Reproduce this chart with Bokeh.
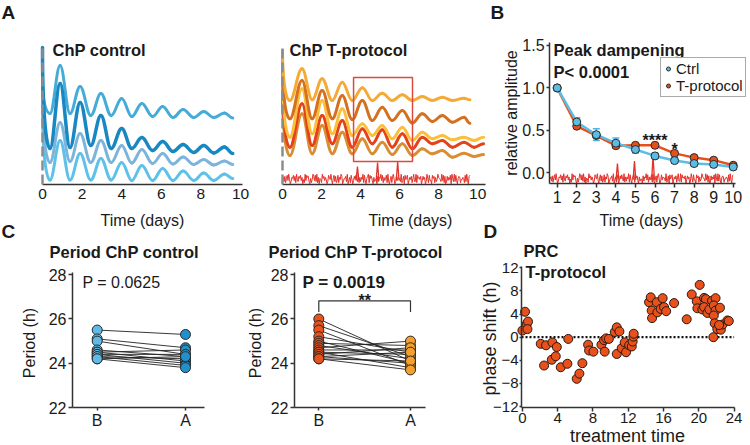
import numpy as np
from bokeh.plotting import figure
from bokeh.models import (Range1d, FixedTicker, Label, BoxAnnotation, Legend, LinearAxis,
                          LegendItem, Whisker, TeeHead, ColumnDataSource, NumeralTickFormatter)
from bokeh.embed import file_html
from bokeh.resources import INLINE
from bokeh.core.properties import value

FONT = "Liberation Sans"
INK = "#1a1a1a"
AXIS = "#333333"
W, H = 750, 445

# ---------------- A: bioluminescence traces (extrema: day, level) ----------------
ctrl_days = [0, 0.38, 0.89, 1.39, 1.9, 2.44, 2.95, 3.47, 4.0, 4.51, 5.02, 5.56, 6.07,
             6.59, 7.1, 7.64, 8.14, 8.65, 9.19, 9.61]
ctrl_trace_1 = [104, 71, 119, 71, 98, 69, 91, 69, 86, 68, 81, 68, 78, 67, 75, 67, 73, 67, 71.5, 66.5]
ctrl_trace_2 = [137, 36, 101, 37, 82, 39, 69, 36, 56, 36, 47, 34, 43, 33, 40, 32, 39, 31.5, 37.5, 31]
ctrl_trace_3 = [95, 22, 62, 23, 51, 22, 44, 22, 39, 21.5, 35, 21, 31, 20.5, 27.5, 20, 25, 19.5, 23.5, 20]
ctrl_trace_4 = [80, 4.5, 44, 4.5, 31, 4.5, 26, 4.5, 22, 4, 19, 4, 16, 4, 13.5, 4, 11.5, 4, 10.5, 6]
ctrl_colors = ["#45abd8", "#1888c2", "#7db4dc", "#5dc1ea"]

tp_days_short = [0, 0.38, 1.0, 1.52, 2.03, 2.55, 3.06, 3.57, 4.09, 4.6, 5.11, 5.62, 6.14,
                 6.65, 7.16, 7.68, 8.19, 8.7, 9.3, 9.6]
tp_days_long = [0, 0.38, 1.0, 1.52, 2.03, 2.55, 3.06, 3.57, 4.09, 4.6, 5.11, 5.62, 6.14,
                6.65, 7.16, 7.68, 8.19, 8.7, 9.3, 9.81, 10.3]
tp_trace_1 = [134, 84, 115.7, 84.7, 105.7, 84, 102.3, 84, 96.7, 84, 91.3, 84, 89.7, 84, 88, 84, 87.3, 84, 86.3, 84.7]
tp_trace_2 = [125, 65.7, 104, 65.7, 94, 65.7, 89, 65, 84, 64, 77.3, 64, 74, 61.5, 70.7, 63, 69, 62.3, 67.3, 61.3]
tp_trace_3 = [115, 47.3, 95.7, 50.7, 84, 50.7, 75.7, 49, 60.7, 49, 59, 45.7, 57.3, 44, 52.3, 45.7, 49, 44.7, 47.3, 44, 47.3]
tp_trace_4 = [105, 37.3, 80.7, 39, 69, 40.7, 64, 37.3, 55.7, 40.7, 54.7, 37.3, 50.7, 35.7, 47.3, 40.7, 44, 37.3, 42.3, 37.3, 40.7]
tp_trace_5 = [95, 29, 70.7, 30.7, 59, 30.7, 52.3, 30.7, 45.7, 30.7, 42.3, 30, 40.7, 29, 35.7, 30.7, 34, 27.3, 31.3, 28, 30]
tp_colors = ["#f5aa35", "#d4701f", "#fbbf3a", "#e64219", "#d98e34"]

highlight_days = (3.64, 6.66)
highlight_levels = (23, 107)

# light-pulse recording, digitised as 0-9 levels every 0.04 day
light_levels = ("4627158394" "0265837194" "2758360419" "3867205149" "7382916054" "1957364028"
                "6493058271" "3816497025" "5729036184" "0374852916" "2649183057" "9185730624"
                "4072659381" "6358192047" "1794028365" "5291370846" "8036471592" "2918564703"
                "7460295183" "3085716249" "6542938170" "1736480952" "9283057614" "4651829307" "8")
pulse_days_a = [3.84, 4.87, 5.90]
pulse_peak_a = [18, 22, 23]
pulse_days_b = [4.08, 4.95, 5.90]
pulse_peak_b = [0.11, 0.14, 0.20]

# ---------------- B: peak dampening ----------------
amp_days = [1, 2, 3, 4, 5, 6, 7, 8, 9, 10]
amp_ctrl = [1.0, 0.60, 0.45, 0.35, 0.275, 0.20, 0.145, 0.11, 0.10, 0.07]
amp_ctrl_sem = [0.0, 0.05, 0.07, 0.06, 0.04, 0.03, 0.03, 0.03, 0.03, 0.03]
amp_tp = [1.0, 0.55, 0.44, 0.32, 0.325, 0.325, 0.23, 0.18, 0.15, 0.09]
sig_days = [6, 7]
sig_marks = ["****", "*"]

# ---------------- C: period before / after ----------------
ctrl_before = [25.5, 25.1, 25.0, 24.6, 24.5, 24.5, 24.4, 24.4, 24.3, 24.3, 24.2, 24.2]
ctrl_after = [25.3, 24.7, 24.4, 24.3, 24.6, 24.1, 24.4, 24.0, 24.2, 23.9, 23.8, 24.3]
tp_before = [26.0, 25.7, 25.5, 25.2, 25.0, 24.9, 24.8, 24.7, 24.6, 24.5, 24.5, 24.4, 24.3, 24.3, 24.2, 24.2]
tp_after = [24.1, 24.3, 23.9, 24.5, 24.0, 24.8, 24.2, 25.0, 24.6, 24.4, 23.8, 24.7, 24.0, 24.5, 24.1, 23.7]
group_labels = {0: "B", 1: "A"}
bracket_level = 26.82
bracket_drop = 0.5

# ---------------- D: phase response curve ----------------
prc_time = [0.0, 0.3, 0.5, 0.64, 0.57, 2.08, 2.46, 2.68, 3.4, 3.33, 3.78, 3.9, 4.35, 5.1, 5.2,
            6.16, 6.46, 6.8, 7.45, 7.56, 8.05, 8.96, 9.26, 9.33, 9.5, 9.8, 10.47, 10.7, 11.0,
            10.7, 11.26, 11.6, 11.75, 12.1, 12.4, 12.5, 12.58, 12.62, 14.36, 14.55, 14.66, 14.7,
            15.23, 15.3, 15.68, 15.9, 16.06, 16.3, 17.2, 18.63, 19.2, 19.77, 19.84, 20.1, 20.4,
            20.6, 20.8, 20.6, 20.97, 21.2, 21.5, 21.9, 21.7, 21.9, 21.7, 21.8, 21.65, 22.1, 22.4,
            22.5, 22.7, 23.25, 23.4, 22.3]
prc_shift = [1.15, 4.4, 2.3, 2.7, 1.4, -1.15, -4.9, -1.4, -0.9, -3.9, -3.3, -1.7, -5.2, -4.6, -0.3,
             -7.2, -6.3, -4.5, -1.3, -2.3, -2.5, -1.3, -0.5, -2.5, -0.2, -0.3, 0.9, 1.7, 1.0,
             -2.9, -1.9, -0.9, -2.6, -1.4, -1.6, -0.75, 0.1, 0.6, 6.05, 6.9, 4.6, 3.3,
             6.05, 4.3, 4.9, 6.75, 5.2, 4.5, 5.9, 3.1, 7.4, 6.2, 5.0, 9.05, 4.8,
             6.8, 6.6, 5.2, 4.2, 4.8, 6.3, 6.75, 5.5, 4.6, 3.75, 2.4, 0.0, 1.4, 5.1,
             1.3, 2.2, 2.9, 2.8, 2.1]

# One canvas holds all six panels; each panel has its own named ranges and
# axes pinned at fixed data positions.
p = figure(width=W, height=H, x_range=Range1d(0, W), y_range=Range1d(0, H),
           x_axis_location=None, y_axis_location=None, output_backend="svg",
           toolbar_location=None, min_border=0, min_border_left=0, min_border_right=0,
           min_border_top=0, min_border_bottom=0)
p.outline_line_color = None
p.grid.visible = False
p.background_fill_color = "white"
p.border_fill_color = "white"


def panel(name, xmap, ymap, xbounds, ybounds, tick_size="16px"):
    v, px, s = xmap          # value, page x of that value, pixels per unit
    p.extra_x_ranges[name] = Range1d(v - px / s, v + (W - px) / s)
    v, py, s = ymap          # value, page y (from top) of that value, pixels per unit
    p.extra_y_ranges[name] = Range1d(v - (H - py) / s, v + py / s)
    xa = LinearAxis(x_range_name=name, y_range_name=name, fixed_location=ybounds[0], bounds=xbounds)
    ya = LinearAxis(x_range_name=name, y_range_name=name, fixed_location=xbounds[0], bounds=ybounds)
    for ax in (xa, ya):
        ax.axis_line_color = AXIS
        ax.axis_line_width = 1.5
        ax.major_tick_line_color = AXIS
        ax.major_tick_line_width = 1.5
        ax.minor_tick_line_color = None
        ax.major_tick_in = 0
        ax.major_tick_out = 4
        ax.major_label_standoff = 2
        ax.major_label_text_font = FONT
        ax.major_label_text_font_size = tick_size
        ax.major_label_text_color = INK
    p.add_layout(xa, "below")
    p.add_layout(ya, "left")
    return xa, ya, dict(x_range_name=name, y_range_name=name)


def note(x, cy, text, size="16.5px", bold=True, align="left", angle=0.0):
    # x, cy: page position (cy = vertical centre, from the top)
    p.add_layout(Label(x=x, y=H - cy, x_units="screen", y_units="screen", text=text, angle=angle,
                       text_font=FONT, text_font_size=size,
                       text_font_style="bold" if bold else "normal",
                       text_baseline="middle", text_align=align, text_color=INK))


def axis_title(x, cy, text, size="16px", vertical=False):
    note(x, cy, text, size=size, bold=False, align="center", angle=np.pi / 2 if vertical else 0.0)


def draw_trace(kw, days, levels, color, width):
    t = np.asarray(days, float)
    v = np.asarray(levels, float)
    x0, x1, y0, y1 = t[:-1], t[1:], v[:-1], v[1:]
    dx = x1 - x0
    cx0, cy0 = x0 + 0.38 * dx, y0.copy()
    cx1, cy1 = x1 - 0.38 * dx, y1.copy()
    # recordings open with a steep fall from the first reading
    cx0[0], cy0[0] = x0[0], y0[0] - 0.6 * (y0[0] - y1[0])
    cx1[0] = x1[0] - 0.55 * dx[0]
    p.bezier(x0=x0, y0=y0, x1=x1, y1=y1, cx0=cx0, cy0=cy0, cx1=cx1, cy1=cy1,
             line_color=color, line_width=width, line_cap="round", **kw)


def trace_axes(xa, ya):
    ya.ticker = FixedTicker(ticks=[])
    ya.axis_line_color = "#8c8c8c"
    ya.axis_line_width = 2.5
    ya.axis_line_dash = "10 4"
    ya.major_tick_out = 0
    xa.ticker = FixedTicker(ticks=[0, 2, 4, 6, 8, 10])
    xa.major_tick_out = 0
    xa.major_label_standoff = 4


levels = np.array([int(c) for c in light_levels], dtype=float)

# ---------------- panel A, control ----------------
xa, ya, kw = panel("a1", (0, 42, 19.8), (0, 184, 1.0), (0, 10.1), (0, 137), tick_size="15.5px")
trace_axes(xa, ya)
for tr, col, lw in zip([ctrl_trace_4, ctrl_trace_3, ctrl_trace_1, ctrl_trace_2],
                       [ctrl_colors[3], ctrl_colors[2], ctrl_colors[0], ctrl_colors[1]],
                       [3, 3, 3, 3.5]):
    draw_trace(kw, ctrl_days, tr, col, lw)
note(1, 11.5, "A", size="19px")
note(52, 49.5, "ChP control")
axis_title(142, 219.5, "Time (days)")

# ---------------- panel A, T-protocol ----------------
xa, ya, kw = panel("a2", (0, 282, 19.52), (0, 184, 1.0), (0, 10.4), (0, 137), tick_size="15.5px")
trace_axes(xa, ya)
draw_trace(kw, tp_days_long, tp_trace_5, tp_colors[4], 3)
draw_trace(kw, tp_days_long, tp_trace_4, tp_colors[3], 3)
draw_trace(kw, tp_days_long, tp_trace_3, tp_colors[2], 3)
draw_trace(kw, tp_days_short, tp_trace_2, tp_colors[1], 3)
draw_trace(kw, tp_days_short, tp_trace_1, tp_colors[0], 3)
a_t = np.arange(len(levels)) * 0.04
p.line(a_t, 0.8 + 1.05 * levels, line_color="#e3322a", line_width=1.0, **kw)
p.multi_line(xs=[[d - 0.07, d, d + 0.07] for d in pulse_days_a],
             ys=[[4, pk, 4] for pk in pulse_peak_a], line_color="#e3322a", line_width=1.3, **kw)
p.add_layout(BoxAnnotation(left=highlight_days[0], right=highlight_days[1],
                           bottom=highlight_levels[0], top=highlight_levels[1],
                           fill_alpha=0, line_color="#e0483a", line_alpha=1.0, line_width=1.5, **kw))
note(289, 49.5, "ChP T-protocol")
axis_title(410, 219.5, "Time (days)")

# ---------------- panel B ----------------
xa, ya, kw = panel("b", (1, 556.7, 19.56), (0, 172.4, 84.94), (0.61, 10.12), (-0.125, 1.535))
xa.ticker = FixedTicker(ticks=amp_days)
xa.major_label_standoff = 3
ya.ticker = FixedTicker(ticks=[0, 0.5, 1.0, 1.5])
ya.formatter = NumeralTickFormatter(format="0.0")
ya.major_tick_out = 3
b_t = np.linspace(0.63, 10.0, len(levels))
p.line(b_t, -0.122 + 0.0125 * levels, line_color="#e3322a", line_width=1.0, **kw)
p.multi_line(xs=[[d - 0.07, d, d + 0.07] for d in pulse_days_b],
             ys=[[-0.08, pk, -0.08] for pk in pulse_peak_b], line_color="#e3322a", line_width=1.3, **kw)
src = ColumnDataSource(dict(day=amp_days,
                            lo=[m - s for m, s in zip(amp_ctrl, amp_ctrl_sem)],
                            hi=[m + s for m, s in zip(amp_ctrl, amp_ctrl_sem)]))
p.add_layout(Whisker(source=src, base="day", lower="lo", upper="hi", level="underlay",
                     line_color="#4fb3e3", line_width=1.5,
                     upper_head=TeeHead(size=7, line_color="#4fb3e3", line_width=1.5),
                     lower_head=TeeHead(size=7, line_color="#4fb3e3", line_width=1.5), **kw))
p.line(amp_days, amp_tp, line_color="#e8501a", line_width=2.5, **kw)
p.line(amp_days, amp_ctrl, line_color="#5bbde4", line_width=2.5, **kw)
tp_pts = p.scatter(amp_days, amp_tp, size=8, fill_color="#e8501a", line_color="#2a2a2a",
                   line_width=1, **kw)
ctrl_pts = p.scatter(amp_days, amp_ctrl, size=8, fill_color="#5bbde4", line_color="#2a2a2a",
                     line_width=1, **kw)
p.text(x=sig_days, y=[amp_tp[5] + 0.055, amp_tp[6] + 0.045], text=sig_marks,
       text_font=value(FONT), text_font_size="16px", text_font_style="bold",
       text_align="center", text_baseline="middle", text_color=INK, **kw)
legend = Legend(items=[LegendItem(label="Ctrl", renderers=[ctrl_pts]),
                       LegendItem(label="T-protocol", renderers=[tp_pts])],
                location=(660, H - 97), border_line_color="#555555", border_line_width=1.5,
                padding=2, spacing=0, margin=0, glyph_width=10, glyph_height=15,
                label_height=15, label_standoff=3, label_text_font=FONT,
                label_text_font_size="15px", label_text_color=INK)
p.add_layout(legend)
note(490, 11.5, "B", size="19px")
note(553, 49.5, "Peak dampening")
note(553, 71, "P< 0.0001")
axis_title(641, 219.5, "Time (days)")
axis_title(511, 112.5, "relative amplitude", vertical=True)


# ---------------- panel C ----------------
def period_panel(name, xmap, xbounds, before, after, c_before, c_after):
    xa, ya, kw = panel(name, xmap, (22, 407, 22.13), xbounds, (22, 28.1))
    xa.ticker = FixedTicker(ticks=[0, 1])
    xa.major_label_overrides = group_labels
    xa.major_tick_out = 3
    xa.major_label_standoff = 1
    ya.ticker = FixedTicker(ticks=[22, 24, 26, 28])
    n = len(before)
    p.segment(x0=[0] * n, y0=before, x1=[1] * n, y1=after, line_color="#222222",
              line_width=0.9, **kw)
    p.scatter([0] * n, before, size=10, fill_color=c_before, line_color="#2a2a2a",
              line_width=1, **kw)
    p.scatter([1] * n, after, size=10, fill_color=c_after, line_color="#2a2a2a",
              line_width=1, **kw)
    return kw


period_panel("c1", (0, 96.7, 88.3), (-0.28, 1.215), ctrl_before, ctrl_after, "#5ebbe6", "#2190cc")
note(1, 230.5, "C", size="19px")
note(49, 251.5, "Period ChP control")
note(82, 281.5, "P = 0.0625", size="16px", bold=False)
axis_title(29, 342.5, "Period (h)", vertical=True)

kw = period_panel("c2", (0, 318.3, 91.7), (-0.265, 1.164), tp_before, tp_after, "#e8531c", "#f5a02c")
p.multi_line(xs=[[0, 0, 1, 1]], ys=[[bracket_level - bracket_drop, bracket_level,
                                     bracket_level, bracket_level - bracket_drop]],
             line_color="#333333", line_width=1.2, **kw)
p.text(x=[0.5], y=[bracket_level + 0.03], text=["**"], text_font=value(FONT),
       text_font_size="16px", text_font_style="bold", text_align="center",
       text_baseline="middle", text_color=INK, **kw)
note(268, 251.5, "Period ChP T-protocol")
note(302, 281.5, "P = 0.0019", size="17px")
axis_title(255, 342.5, "Period (h)", vertical=True)

# ---------------- panel D ----------------
prc_xbounds = (-0.1, 24.0)
xa, ya, kw = panel("d", (0, 521.9, 8.82), (0, 336.7, 5.78), prc_xbounds, (-12.15, 12.25),
                   tick_size="15px")
xa.ticker = FixedTicker(ticks=[0, 4, 8, 12, 16, 20, 24])
ya.ticker = FixedTicker(ticks=[-12, -8, -4, 0, 4, 8, 12])
ya.major_tick_out = 2
ya.major_label_standoff = 1
p.line(x=list(prc_xbounds), y=[0, 0], line_color="#111111", line_width=2.2, line_dash="2 2", **kw)
p.scatter(prc_time, prc_shift, size=9, fill_color="#e8501c", line_color="#2a1a10",
          line_width=1, **kw)
note(483, 230.5, "D", size="19px")
note(523, 250, "PRC")
note(525, 271.5, "T-protocol")
axis_title(627, 435, "treatment time", size="18px")
axis_title(489, 338, "phase shift (h)", size="18px", vertical=True)

open("out.html", "w").write(file_html(p, INLINE))
